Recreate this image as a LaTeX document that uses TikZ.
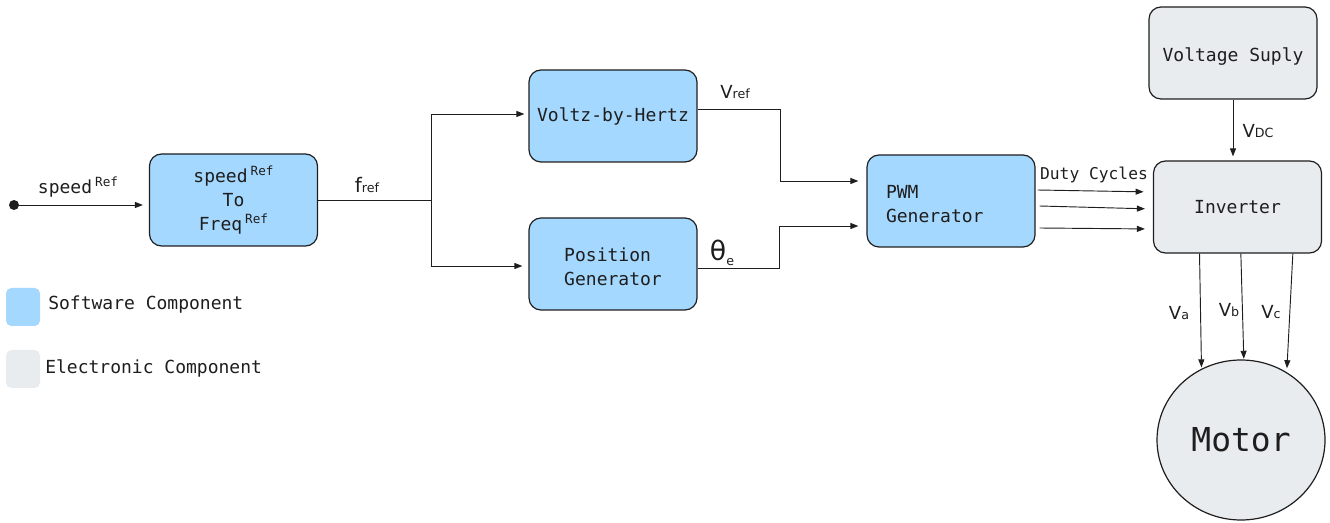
\documentclass[tikz,border=0pt]{standalone}
\usepackage{fontspec}
\setmainfont{DejaVu Sans Mono}
\newfontfamily\labfont{DejaVu Sans}
\usetikzlibrary{arrows.meta,shapes.geometric}
\definecolor{swblue}{HTML}{A5D8FF}
\definecolor{elgray}{HTML}{E9ECEF}
\definecolor{ink}{HTML}{1E1E1E}
% small raised / lowered index text
\newcommand\supx[1]{\raisebox{0.65ex}{\fontsize{9.5}{10}\selectfont #1}}
\newcommand\subx[1]{{\fontsize{9.5}{10}\selectfont #1}}
\newcommand\lowx[1]{\raisebox{-0.3ex}{\fontsize{9.5}{10}\selectfont #1}}
% extra room above the first line, pushes box text slightly down
\newcommand\topgap[1]{\rule{0pt}{#1}}
\begin{document}
\begin{tikzpicture}[x=0.75pt,y=-0.75pt,
  box/.style={draw=ink, line width=0.9pt, rounded corners=9pt,
    minimum width=126pt, minimum height=69pt, inner sep=0pt,
    align=center, text=ink, font=\fontsize{13.5}{18}\selectfont},
  sw/.style={box, fill=swblue},
  el/.style={box, fill=elgray},
  wire/.style={draw=ink, line width=0.7pt},
  arr/.style={wire, -{Triangle[length=6pt,width=4.5pt]}},
  lab/.style={font=\labfont\fontsize{13.5}{16}\selectfont, text=ink, inner sep=0pt},
  mono/.style={font=\fontsize{13.5}{16}\selectfont, text=ink, inner sep=0pt},
  swatch/.style={rounded corners=4pt, minimum width=25.5pt, minimum height=28.5pt, inner sep=0pt},
]
\useasboundingbox (0,0) rectangle (1330,523);

% blocks
\node[sw] (conv) at (233.5,200) {speed\,\supx{Ref}\\To\\Freq\,\supx{Ref}};
\node[sw] (vh) at (613,116) {Voltz-by-Hertz};
\node[sw, align=left] (pg) at (613,264) {\topgap{15pt}Position\\Generator};
\node[sw, align=left, text width=97.5pt, inner xsep=14.25pt] (pwm) at (951,201) {\topgap{15pt}PWM\\Generator};
\node[el] (vs) at (1233,53) {\topgap{16pt}Voltage Suply};
\node[el] (inv) at (1237.5,207) {Inverter};
\node[ellipse, draw=ink, line width=0.9pt, fill=elgray, minimum width=126pt,
  minimum height=120pt, inner sep=0pt, text=ink,
  font=\fontsize{24.7}{28}\selectfont] (motor) at (1241,440) {Motor};

% input
\node[circle, fill=ink, minimum size=7.5pt, inner sep=0pt] (src) at (14,205) {};
\draw[arr, shorten >=4.5pt] (src.center) -- (conv.west |- src);
\node[mono] (lspeed) at (78,187) {speed\,\supx{Ref}};

% frequency reference split
\coordinate (split) at (431,200);
\draw[wire] (conv.east) -- (split);
\draw[arr, shorten >=3pt] (split) |- ([yshift=1.5pt]vh.west);
\draw[arr, shorten >=4.5pt] (split) |- ([yshift=-1.5pt]pg.west);
\node[lab, font=\labfont\fontsize{15}{16}\selectfont] (lfref) at (367,185) {f\subx{ref}};

% V_ref and theta_e into the PWM generator
\coordinate (vrk) at (780,109);
\draw[arr, shorten >=6pt] (vh.east |- vrk) -- (vrk) |- ([yshift=15pt]pwm.west);
\node[lab] (lvref) at (735,92) {V\subx{ref}};
\coordinate (thk) at (779,268);
\draw[arr, shorten >=6pt] (pg.east |- thk) -- (thk) |- ([yshift=-18.75pt]pwm.west);
\node[lab, font=\labfont\fontsize{20}{20}\selectfont] (ltheta) at (722,253) {θ\lowx{e}};

% duty cycles
\draw[arr, shorten >=7pt] ([xshift=1.5pt,yshift=8.25pt]pwm.east) -- ([yshift=11.25pt]inv.west);
\draw[arr, shorten >=6pt] ([xshift=3pt,yshift=-3.75pt]pwm.east) -- ([yshift=-1.5pt]inv.west);
\draw[arr, shorten >=6pt] ([xshift=3pt,yshift=-20.25pt]pwm.east) -- ([yshift=-16.5pt]inv.west);
\node[mono, font=\fontsize{12.2}{14}\selectfont] (lduty) at (1094,175) {Duty Cycles};

% DC link
\draw[arr, shorten >=3pt] (vs.south) -- (vs.south |- inv.north);
\node[lab] (lvdc) at (1258,131) {V\subx{DC}};

% phase voltages
\draw[arr, shorten >=1pt] ([xshift=-28.5pt]inv.south) -- (motor.119);
\draw[arr, shorten >=0.5pt] ([xshift=2.5pt]inv.south) -- (motor.88);
\draw[arr, shorten >=3pt] ([xshift=41.5pt]inv.south) -- (motor.56);
\node[lab] (lva) at (1179,313) {V\subx{a}};
\node[lab] (lvb) at (1229,310) {V\subx{b}};
\node[lab] (lvc) at (1271,312) {V\subx{c}};

% legend
\node[swatch, fill=swblue] (sws) at (23,307) {};
\node[mono, anchor=west] (lsw) at (48,305) {Software Component};
\node[swatch, fill=elgray] (swe) at (23,369) {};
\node[mono, anchor=west] (lel) at (45,368) {Electronic Component};
\end{tikzpicture}
\end{document}
